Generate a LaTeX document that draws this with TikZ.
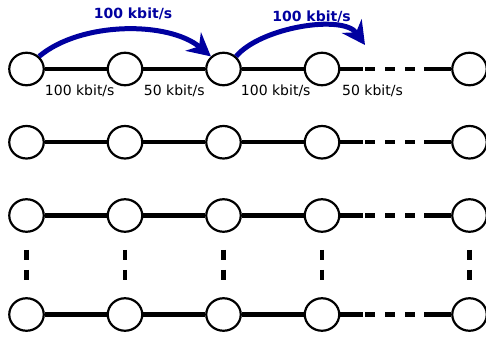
\documentclass[tikz,border=0pt]{standalone}
\usepackage{fontspec}
\setmainfont{DejaVu Sans}
\definecolor{flowblue}{RGB}{0,0,160}
\usetikzlibrary{
  arrows.meta,      % big stealth heads for the flows
  positioning,      % right=of, below=of
  shapes.geometric  % ellipse shaped hosts
}
\tikzset{
  x=1pt, y=1pt,
  on grid,  % node distance from the centers
  node distance=73.25pt and 98.5pt,
  host/.style = {
    ellipse,
    draw,
    line width=2.2pt,
    minimum width=34.5pt,
    minimum height=32.5pt,
    inner sep=0pt
  },
  link/.style = {line width=4.4pt},
  farlink/.style = {link, dash pattern=on 23pt off 2pt on 10pt off 10pt on 10pt off 10pt on 10pt off 9pt on 60pt},
  gap/.style = {line width=4.4pt, dash pattern=on 10pt off 10pt, shorten <=17pt, shorten >=17pt},
  rate/.style = {anchor=base, yshift=-26pt, inner sep=0pt, font=\fontsize{14pt}{17pt}\selectfont},
  flowrate/.style = {anchor=base, inner sep=0pt, text=flowblue, font=\fontsize{14pt}{17pt}\selectfont\bfseries},
  flow/.style = {draw=flowblue, line width=5pt, -{Stealth[length=23pt,width=24pt,inset=7.5pt]}}
}

\begin{document}
\begin{tikzpicture}

  \useasboundingbox (0,0) rectangle (486,-337);

  %% nodes
  \node[host] (A1) at (26.5,-69) {};
  \node[host] (A2) [right=of A1] {};
  \node[host] (A3) [right=of A2] {};
  \node[host] (A4) [right=of A3] {};
  \node[host] (A5) [right=147.5pt of A4] {};

  \node[host] (B1) [below=of A1] {};
  \node[host] (B2) [right=of B1] {};
  \node[host] (B3) [right=of B2] {};
  \node[host] (B4) [right=of B3] {};
  \node[host] (B5) [right=147.5pt of B4] {};

  \node[host] (C1) [below=of B1] {};
  \node[host] (C2) [right=of C1] {};
  \node[host] (C3) [right=of C2] {};
  \node[host] (C4) [right=of C3] {};
  \node[host] (C5) [right=147.5pt of C4] {};

  \node[host] (D1) [below=99pt of C1] {};
  \node[host] (D2) [right=of D1] {};
  \node[host] (D3) [right=of D2] {};
  \node[host] (D4) [right=of D3] {};
  \node[host] (D5) [right=147.5pt of D4] {};

  \coordinate[above right=24pt and 43pt of A4] (T);

  %% links
  \draw[link] (A1) -- node[rate, xshift=4pt] {100 kbit/s} (A2);
  \draw[link] (A2) -- node[rate] {50 kbit/s} (A3);
  \draw[link] (A3) -- node[rate, xshift=3pt] {100 kbit/s} (A4);
  \draw[farlink] (A4) -- node[rate, pos=0.29] {50 kbit/s} (A5);

  \draw[link] (B1) -- (B2);
  \draw[link] (B2) -- (B3);
  \draw[link] (B3) -- (B4);
  \draw[farlink] (B4) -- (B5);

  \draw[link] (C1) -- (C2);
  \draw[link] (C2) -- (C3);
  \draw[link] (C3) -- (C4);
  \draw[farlink] (C4) -- (C5);

  \draw[link] (D1) -- (D2);
  \draw[link] (D2) -- (D3);
  \draw[link] (D3) -- (D4);
  \draw[farlink] (D4) -- (D5);

  % more rows in between
  \draw[gap] (C1) -- (D1);
  \draw[gap] (C2) -- (D2);
  \draw[gap] (C3) -- (D3);
  \draw[gap] (C4) -- (D4);
  \draw[gap] (C5) -- (D5);

  %% flows
  \draw[flow] (A1.45) to[out=40, in=140, looseness=0.82]
    node[flowrate, xshift=8pt, yshift=11.5pt] {100 kbit/s} (A3.135);
  \draw[flow] (A3.45) to[out=50, in=125, looseness=0.75]
    node[flowrate, xshift=10pt, yshift=7pt] {100 kbit/s} (T);

\end{tikzpicture}
\end{document}
